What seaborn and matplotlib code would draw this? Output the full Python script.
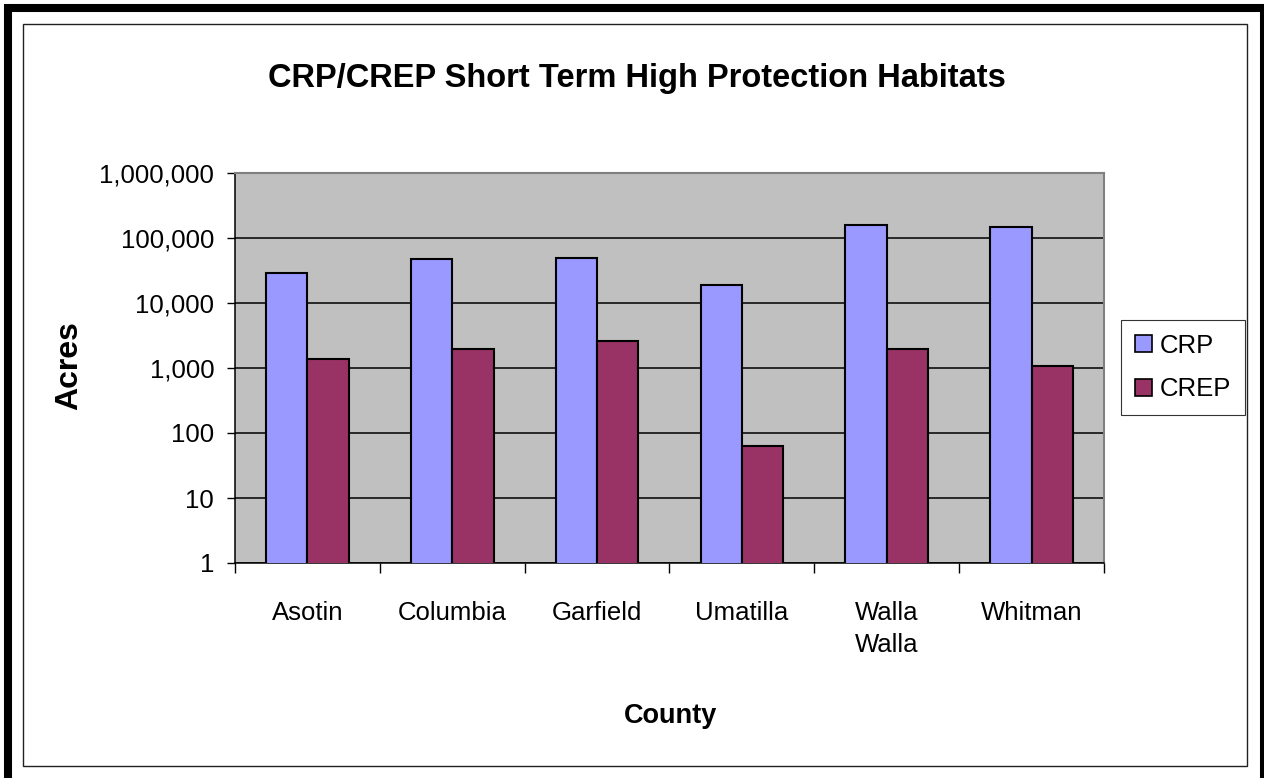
import matplotlib
matplotlib.use("Agg")
import matplotlib.pyplot as plt
from matplotlib.patches import Rectangle, Patch
from matplotlib.ticker import FixedLocator, FuncFormatter, NullFormatter
import seaborn as sns
import pandas as pd

counties = ["Asotin", "Columbia", "Garfield", "Umatilla", "Walla Walla", "Whitman"]
tick_labels = ["Asotin", "Columbia", "Garfield", "Umatilla", "Walla\nWalla", "Whitman"]
crp_acres = [29000, 47000, 50000, 19000, 160000, 149000]
crep_acres = [1390, 1960, 2560, 62, 1980, 1060]
programs = ["CRP", "CREP"]
colors = ["#9999FF", "#993366"]

df = pd.DataFrame({
    "County": counties * 2,
    "Program": ["CRP"] * len(counties) + ["CREP"] * len(counties),
    "Acres": crp_acres + crep_acres,
})

sns.set_theme(style="white")
plt.rcParams["font.family"] = ["Liberation Sans", "DejaVu Sans"]
for key in ["text.color", "axes.labelcolor", "xtick.color", "ytick.color"]:
    plt.rcParams[key] = "black"

W, H = 1264, 778
fig = plt.figure(figsize=(W / 100, H / 100), dpi=100)
fig.patch.set_facecolor("white")

# plot area in pixel coordinates
x0, x1, y0, y1 = 235, 1104, 173, 563
ax = fig.add_axes([x0 / W, 1 - y1 / H, (x1 - x0) / W, (y1 - y0) / H])
ax.set_facecolor("#C0C0C0")

sns.barplot(data=df, x="County", y="Acres", hue="Program", order=counties,
            hue_order=programs, palette=colors, width=0.57, gap=0,
            edgecolor="black", linewidth=1.5, saturation=1, ax=ax,
            legend=False, zorder=3)

ax.set_yscale("log")
ax.set_ylim(1, 1_000_000)
ax.set_xlim(-0.5, len(counties) - 0.5)

ax.yaxis.set_major_locator(FixedLocator([10 ** k for k in range(7)]))
ax.yaxis.set_minor_locator(FixedLocator([]))
ax.yaxis.set_major_formatter(FuncFormatter(lambda v, p: f"{int(round(v)):,}"))
ax.grid(axis="y", color="black", linewidth=1.1, zorder=1)
ax.set_axisbelow(True)

TICK_FS = 18.5
ax.set_xticks(range(len(counties)))
ax.set_xticklabels(tick_labels)
ax.xaxis.set_minor_locator(FixedLocator([i - 0.5 for i in range(len(counties) + 1)]))
ax.xaxis.set_minor_formatter(NullFormatter())
ax.tick_params(axis="x", which="major", length=0, pad=27, labelsize=TICK_FS)
ax.tick_params(axis="x", which="minor", length=7, width=1, color="black",
               direction="out", bottom=True)
ax.tick_params(axis="y", which="major", length=6, width=1, color="black",
               direction="out", left=True, pad=9, labelsize=TICK_FS)
for lbl in ax.get_xticklabels():
    lbl.set_linespacing(1.45)

for side in ["top", "right"]:
    ax.spines[side].set_color("#808080")
    ax.spines[side].set_linewidth(1.5)
for side in ["left", "bottom"]:
    ax.spines[side].set_color("black")
    ax.spines[side].set_linewidth(1.1)

ax.set_xlabel("")
ax.set_ylabel("")

fig.text(637 / W, 1 - 78 / H, "CRP/CREP Short Term High Protection Habitats",
         ha="center", va="center", fontsize=23.5, fontweight="bold")
fig.text(69 / W, 1 - 366 / H, "Acres", ha="center", va="center",
         rotation=90, fontsize=23, fontweight="bold")
fig.text(671 / W, 1 - 716 / H, "County", ha="center", va="center",
         fontsize=19.5, fontweight="bold")

handles = [Patch(facecolor=c, edgecolor="black", linewidth=1.2) for c in colors]
leg = fig.legend(handles, programs, loc="center",
                 bbox_to_anchor=(1183 / W, 1 - 367.5 / H),
                 frameon=True, fancybox=False, shadow=False, fontsize=TICK_FS,
                 handlelength=0.65, handleheight=0.65, handletextpad=0.3,
                 borderpad=0.55, labelspacing=0.75, borderaxespad=0)
leg.get_frame().set_edgecolor("black")
leg.get_frame().set_linewidth(0.8)

# chart frame: thin inner border and thick outer border
fig.add_artist(Rectangle((23 / W, 1 - 766 / H), (1247 - 23) / W, (766 - 24) / H,
                         transform=fig.transFigure, fill=False,
                         edgecolor="#202020", linewidth=1.0))
fig.add_artist(Rectangle((8 / W, -0.05), (1264 - 8) / W, 1.05 - 8 / H,
                         transform=fig.transFigure, fill=False,
                         edgecolor="black", linewidth=5.8))

fig.savefig("out.png", dpi=100)
